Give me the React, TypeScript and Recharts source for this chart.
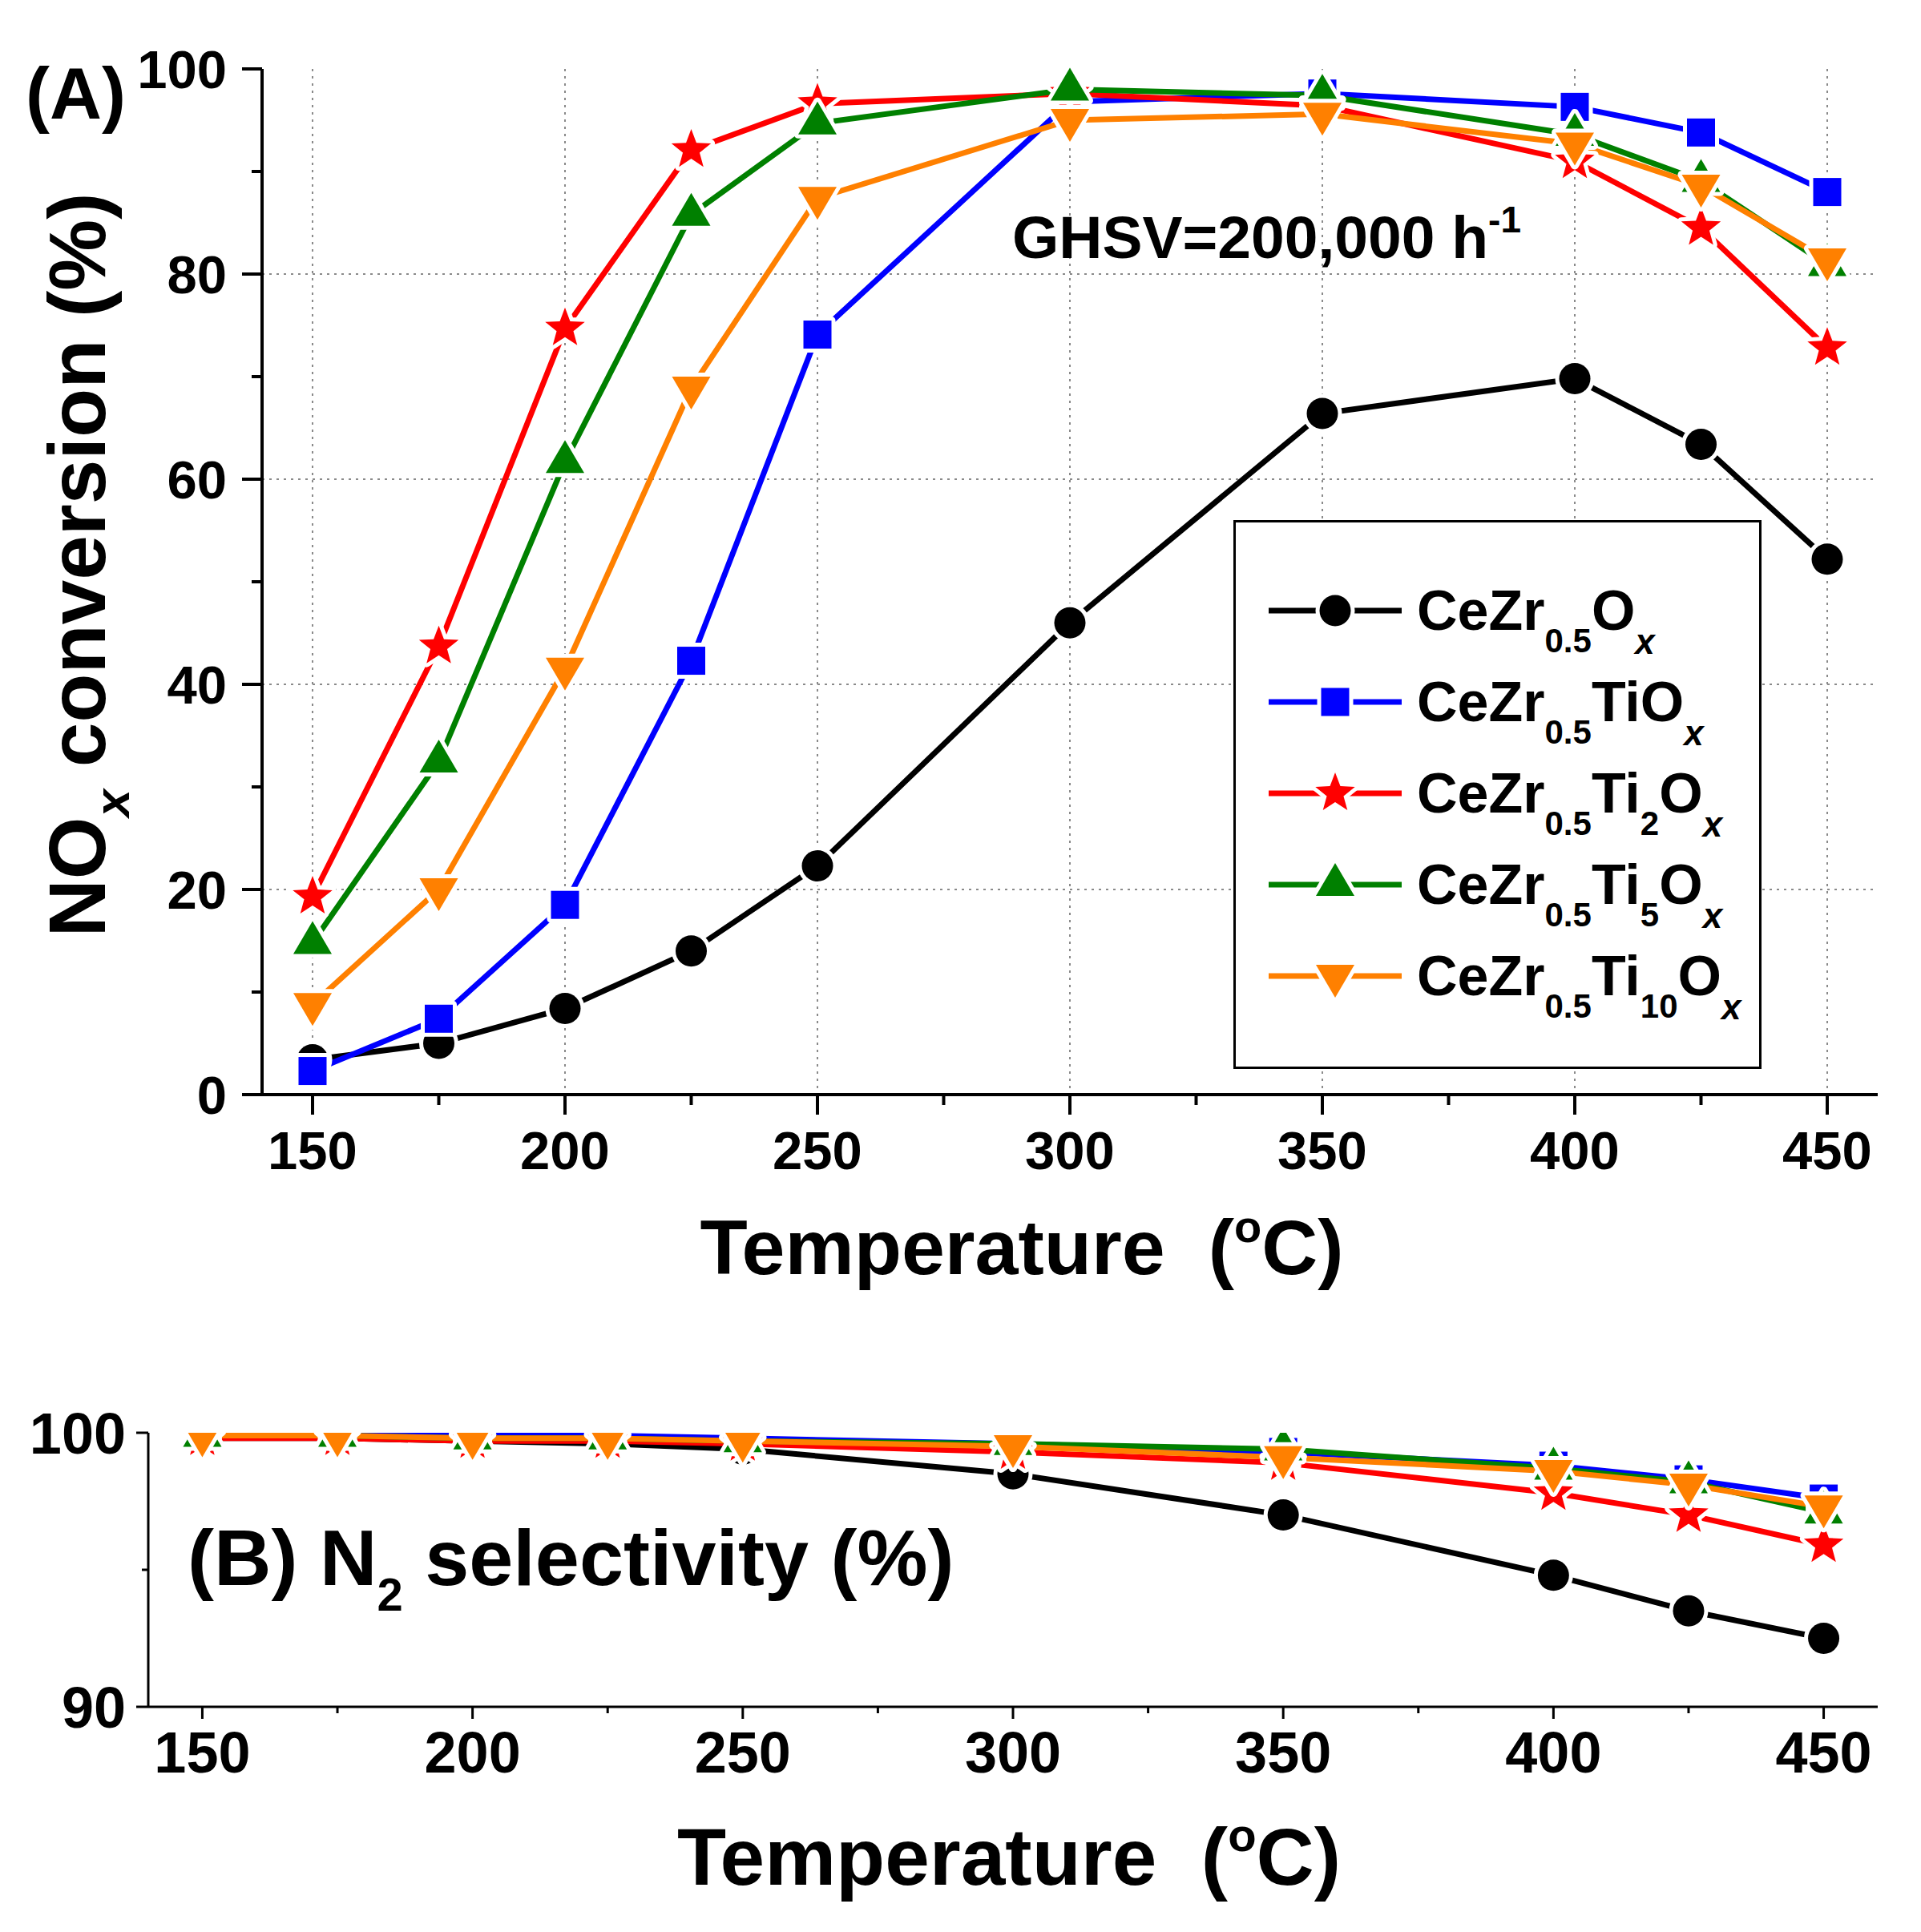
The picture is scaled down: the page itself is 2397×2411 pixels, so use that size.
import React from "react";
import { LineChart, Line, XAxis, YAxis, CartesianGrid, Legend, Customized } from "recharts";

const FONT = '"Liberation Sans", Arial, sans-serif';

// temperatures (°C)
const temperatures = [150, 175, 200, 225, 250, 300, 350, 400, 425, 450];

// (A) NOx conversion (%)
const convCeZr = [3.4, 5.0, 8.4, 14.0, 22.3, 46.0, 66.4, 69.8, 63.4, 52.2];
const convTi1 = [2.3, 7.4, 18.5, 42.3, 74.1, 96.8, 97.6, 96.3, 93.8, 88.0];
const convTi2 = [19.3, 43.7, 74.7, 92.1, 96.6, 97.6, 96.4, 91.0, 84.5, 72.8];
const convTi5 = [14.8, 32.5, 61.7, 85.8, 94.7, 98.0, 97.4, 93.6, 89.1, 80.9];
const convTi10 = [8.8, 20.0, 41.5, 68.9, 87.4, 95.0, 95.6, 92.7, 88.6, 81.4];

// (B) N2 selectivity (%)
const selCeZr = [99.8, 99.8, 99.7, 99.6, 99.4, 98.5, 97.0, 94.8, 93.5, 92.5];
const selTi1 = [99.9, 99.9, 99.9, 99.9, 99.8, 99.6, 99.3, 98.8, 98.3, 97.6];
const selTi2 = [99.8, 99.8, 99.7, 99.7, 99.6, 99.3, 98.9, 97.8, 97.0, 95.9];
const selTi5 = [99.9, 99.9, 99.8, 99.8, 99.7, 99.6, 99.4, 98.7, 98.2, 97.1];
const selTi10 = [99.9, 99.9, 99.8, 99.8, 99.7, 99.5, 99.1, 98.6, 98.1, 97.3];

const seriesKeys = ["s0", "s1", "s2", "s3", "s4"];
const seriesNames = ["CeZr0.5Ox", "CeZr0.5TiOx", "CeZr0.5Ti2Ox", "CeZr0.5Ti5Ox", "CeZr0.5Ti10Ox"];
const seriesColors = ["#000000", "#0000ff", "#ff0000", "#008000", "#ff8000"];
const seriesMarkers = ["circle", "square", "star", "up", "down"];

const xTicks = [150, 175, 200, 225, 250, 275, 300, 325, 350, 375, 400, 425, 450];
const xGrid = [150, 200, 250, 300, 350, 400, 450];
const convTicks = [0, 10, 20, 30, 40, 50, 60, 70, 80, 90, 100];
const convGrid = [20, 40, 60, 80];
const selTicks = [90, 95, 100];

const convSeries = [convCeZr, convTi1, convTi2, convTi5, convTi10];
const selSeries = [selCeZr, selTi1, selTi2, selTi5, selTi10];

const convData = temperatures.map((t, i) => {
    const row: any = { t };
    seriesKeys.forEach((k, j) => (row[k] = convSeries[j][i]));
    return row;
});
const selData = temperatures.map((t, i) => {
    const row: any = { t };
    seriesKeys.forEach((k, j) => (row[k] = selSeries[j][i]));
    return row;
});

function starPoints(cx: number, cy: number, R: number, r: number) {
    const pts: string[] = [];
    for (let i = 0; i < 10; i++) {
        const a = -Math.PI / 2 + (i * Math.PI) / 5;
        const rad = i % 2 === 0 ? R : r;
        pts.push(`${cx + rad * Math.cos(a)},${cy + rad * Math.sin(a)}`);
    }
    return pts.join(" ");
}

function Shape({ kind, cx, cy, ...rest }: any) {
    if (kind === "circle") return <circle cx={cx} cy={cy} r={19.5} {...rest} />;
    if (kind === "square") return <rect x={cx - 17.5} y={cy - 17.5} width={35} height={35} {...rest} />;
    if (kind === "star") return <polygon points={starPoints(cx, cy, 26, 11)} {...rest} />;
    if (kind === "up")
        return <polygon points={`${cx},${cy - 27} ${cx + 24},${cy + 14} ${cx - 24},${cy + 14}`} {...rest} />;
    return <polygon points={`${cx - 24},${cy - 14} ${cx + 24},${cy - 14} ${cx},${cy + 27}`} {...rest} />;
}

function Marker({ kind, cx, cy, color }: any) {
    if (cx == null || cy == null) return <g />;
    return (
        <g>
            <Shape kind={kind} cx={cx} cy={cy} fill="#fff" stroke="#fff" strokeWidth={10} strokeLinejoin="round" />
            <Shape kind={kind} cx={cx} cy={cy} fill={color} />
        </g>
    );
}

// CeZr0.5Ti2Ox -> CeZr, sub 0.5, Ti, sub 2, O, sub x
function FormulaText({ name, x, y }: any) {
    const m = name.match(/^(CeZr)(0\.5)(Ti)?(\d*)(O)(x)$/);
    const sub = 28;
    return (
        <text x={x} y={y} fontFamily={FONT} fontWeight="bold" fontSize={70} fill="#000">
            {m[1]}
            <tspan fontSize={42} dy={sub}>{m[2]}</tspan>
            {m[3] ? (
                <>
                    <tspan dy={-sub}>{m[3]}</tspan>
                    {m[4] ? <tspan fontSize={42} dy={sub}>{m[4]}</tspan> : null}
                    <tspan dy={m[4] ? -sub : 0}>{m[5]}</tspan>
                </>
            ) : (
                <tspan dy={-sub}>{m[5]}</tspan>
            )}
            <tspan fontSize={44} fontStyle="italic" dy={sub + 2}>{m[6]}</tspan>
        </text>
    );
}

function renderLegend(props: any) {
    const payload = [...(props.payload || [])].sort(
        (a: any, b: any) => seriesKeys.indexOf(a.dataKey) - seriesKeys.indexOf(b.dataKey)
    );
    return (
        <svg width={653} height={679} style={{ display: "block" }}>
            {payload.map((entry: any, i: number) => {
                const idx = seriesKeys.indexOf(entry.dataKey);
                const y = 110 + i * 114;
                return (
                    <g key={entry.dataKey}>
                        <line x1={41} x2={207} y1={y} y2={y} stroke={seriesColors[idx]} strokeWidth={7} />
                        <Marker kind={seriesMarkers[idx]} cx={124} cy={y} color={seriesColors[idx]} />
                        <FormulaText name={seriesNames[idx]} x={226} y={y + 24} />
                    </g>
                );
            })}
        </svg>
    );
}

function makeXTick(major: number, minor: number, width: number, fontSize: number, labelDy: number) {
    return (props: any) => {
        const { x, y, payload } = props;
        const isMajor = payload.value % 50 === 0;
        return (
            <g>
                <line x1={x} x2={x} y1={y} y2={y + (isMajor ? major : minor)} stroke="#000" strokeWidth={width} />
                {isMajor ? (
                    <text x={x} y={y + labelDy} textAnchor="middle" fontFamily={FONT} fontWeight="bold" fontSize={fontSize} fill="#000">
                        {payload.value}
                    </text>
                ) : null}
            </g>
        );
    };
}

function makeYTick(step: number, major: number, minor: number, width: number, fontSize: number, gap: number) {
    return (props: any) => {
        const { x, y, payload } = props;
        const isMajor = payload.value % step === 0;
        return (
            <g>
                <line x1={x} x2={x - (isMajor ? major : minor)} y1={y} y2={y} stroke="#000" strokeWidth={width} />
                {isMajor ? (
                    <text x={x - gap} y={y + fontSize * 0.36} textAnchor="end" fontFamily={FONT} fontWeight="bold" fontSize={fontSize} fill="#000">
                        {payload.value}
                    </text>
                ) : null}
            </g>
        );
    };
}

function TitlesA() {
    return (
        <g fontFamily={FONT} fontWeight="bold" fill="#000">
            <text x={32} y={148} fontSize={90}>(A)</text>
            <text x={1263} y={322} fontSize={75}>
                GHSV=200,000 h<tspan fontSize={46} dy={-32}>-1</tspan>
            </text>
            <text transform="translate(131,705) rotate(-90)" textAnchor="middle" fontSize={100}>
                NO<tspan fontSize={62} fontStyle="italic" dy={30}>x</tspan>
                <tspan dy={-30}> conversion (%)</tspan>
            </text>
            <text x={1275} y={1590} textAnchor="middle" fontSize={97} style={{ whiteSpace: "pre" }}>
                {"Temperature  ("}
                <tspan fontSize={56} dy={-40}>o</tspan>
                <tspan dy={40}>C)</tspan>
            </text>
        </g>
    );
}

function TitlesB() {
    return (
        <g fontFamily={FONT} fontWeight="bold" fill="#000">
            <text x={234} y={338} fontSize={99} style={{ whiteSpace: "pre" }}>
                {"(B) N"}
                <tspan fontSize={58} dy={32}>2</tspan>
                <tspan dy={-32}>{" selectivity (%)"}</tspan>
            </text>
            <text x={1259} y={712} textAnchor="middle" fontSize={100} style={{ whiteSpace: "pre" }}>
                {"Temperature  ("}
                <tspan fontSize={58} dy={-42}>o</tspan>
                <tspan dy={42}>C)</tspan>
            </text>
        </g>
    );
}

function seriesLines() {
    return seriesKeys.map((k, i) => (
        <Line
            key={k}
            dataKey={k}
            name={seriesNames[i]}
            type="linear"
            stroke={seriesColors[i]}
            strokeWidth={7}
            isAnimationActive={false}
            activeDot={false}
            dot={(p: any) => <Marker key={`${k}-${p.index}`} kind={seriesMarkers[i]} cx={p.cx} cy={p.cy} color={seriesColors[i]} />}
        />
    ));
}

export default function App() {
    return (
        <div style={{ position: "absolute", left: 0, top: 0, width: 2397, height: 2411, background: "#fff" }}>
            <div style={{ position: "absolute", left: 0, top: 0 }}>
                <LineChart width={2397} height={1640} data={convData} margin={{ top: 86, right: 54, bottom: 0, left: 0 }}>
                    <CartesianGrid
                        horizontal
                        vertical
                        horizontalValues={convGrid}
                        verticalValues={xGrid}
                        stroke="#8a8a8a"
                        strokeWidth={2}
                        strokeDasharray="3 6"
                    />
                    <XAxis
                        dataKey="t"
                        type="number"
                        domain={[140, 460]}
                        ticks={xTicks}
                        interval={0}
                        height={274}
                        tickSize={0}
                        tickMargin={0}
                        tickLine={false}
                        axisLine={{ stroke: "#000", strokeWidth: 4 }}
                        tick={makeXTick(25, 13, 4, 67, 93)}
                    />
                    <XAxis xAxisId="top" orientation="top" type="number" domain={[140, 460]} height={0} tick={false} tickLine={false} axisLine={{ stroke: "#000", strokeWidth: 4 }} />
                    <YAxis
                        type="number"
                        domain={[0, 100]}
                        ticks={convTicks}
                        interval={0}
                        width={327}
                        tickSize={0}
                        tickMargin={0}
                        tickLine={false}
                        axisLine={{ stroke: "#000", strokeWidth: 4 }}
                        tick={makeYTick(20, 25, 13, 4, 67, 44)}
                    />
                    <YAxis yAxisId="right" orientation="right" type="number" domain={[0, 100]} width={0} tick={false} tickLine={false} axisLine={{ stroke: "#000", strokeWidth: 4 }} />
                    {seriesLines()}
                    <Legend
                        layout="horizontal"
                        verticalAlign="middle"
                        align="center"
                        content={renderLegend}
                        wrapperStyle={{
                            left: 1539,
                            top: 649,
                            width: 659,
                            height: 685,
                            border: "3px solid #000",
                            boxSizing: "border-box",
                            background: "#fff",
                        }}
                    />
                    <Customized component={<TitlesA />} />
                </LineChart>
            </div>
            <div style={{ position: "absolute", left: 0, top: 1640 }}>
                <LineChart width={2397} height={771} data={selData} margin={{ top: 148, right: 54, bottom: 0, left: 0 }}>
                    <XAxis
                        dataKey="t"
                        type="number"
                        domain={[140, 460]}
                        ticks={xTicks}
                        interval={0}
                        height={281}
                        tickSize={0}
                        tickMargin={0}
                        tickLine={false}
                        axisLine={{ stroke: "#000", strokeWidth: 3 }}
                        tick={makeXTick(15, 8, 3, 72, 82)}
                    />
                    <XAxis xAxisId="top" orientation="top" type="number" domain={[140, 460]} height={0} tick={false} tickLine={false} axisLine={{ stroke: "#000", strokeWidth: 3 }} />
                    <YAxis
                        type="number"
                        domain={[90, 100]}
                        allowDataOverflow
                        ticks={selTicks}
                        interval={0}
                        width={185}
                        tickSize={0}
                        tickMargin={0}
                        tickLine={false}
                        axisLine={{ stroke: "#000", strokeWidth: 3 }}
                        tick={makeYTick(10, 15, 8, 3, 72, 28)}
                    />
                    <YAxis yAxisId="right" orientation="right" type="number" domain={[90, 100]} width={0} tick={false} tickLine={false} axisLine={{ stroke: "#000", strokeWidth: 3 }} />
                    {seriesLines()}
                    <Customized component={<TitlesB />} />
                </LineChart>
            </div>
        </div>
    );
}
